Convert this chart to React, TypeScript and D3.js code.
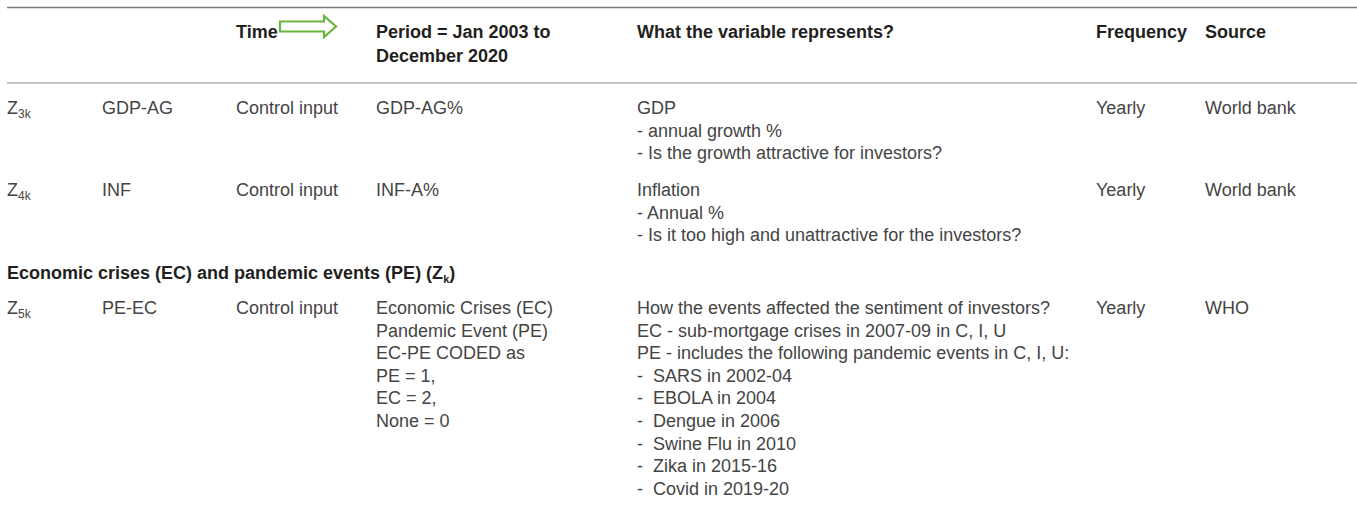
import React from "react";
import * as d3 from "d3";

const headerLine1 = ["", "", "Time", "Period = Jan 2003 to", "What the variable represents?", "Frequency", "Source"];
const headerLine2 = ["", "", "", "December 2020", "", "", ""];

const rowIds = [
  { z: "Z", sub: "3k" },
  { z: "Z", sub: "4k" },
  { z: "Z", sub: "5k" },
];
const rowNames = ["GDP-AG", "INF", "PE-EC"];
const rowTypes = ["Control input", "Control input", "Control input"];
const rowPeriods = [
  ["GDP-AG%"],
  ["INF-A%"],
  ["Economic Crises (EC)", "Pandemic Event (PE)", "EC-PE CODED as", "PE = 1,", "EC = 2,", "None = 0"],
];
const rowMeanings = [
  ["GDP", "- annual growth %", "- Is the growth attractive for investors?"],
  ["Inflation", "- Annual %", "- Is it too high and unattractive for the investors?"],
  [
    "How the events affected the sentiment of investors?",
    "EC - sub-mortgage crises in 2007-09 in C, I, U",
    "PE - includes the following pandemic events in C, I, U:",
    "-  SARS in 2002-04",
    "-  EBOLA in 2004",
    "-  Dengue in 2006",
    "-  Swine Flu in 2010",
    "-  Zika in 2015-16",
    "-  Covid in 2019-20",
  ],
];
const rowFrequency = ["Yearly", "Yearly", "Yearly"];
const rowSource = ["World bank", "World bank", "WHO"];
const sectionTitle = "Economic crises (EC) and pandemic events (PE) (Z";
const sectionSub = "k";
const sectionEnd = ")";

const W = 1357;
const H = 528;
const FONT = "'Liberation Sans', Arial, Helvetica, sans-serif";
const TEXT = "#444";
const BOLD = "#231f20";
const LINE_H = 22.6;

const colX = d3.scaleOrdinal<number, number>().domain([0, 1, 2, 3, 4, 5, 6]).range([7, 102, 236, 376, 637, 1096, 1205]);
const rowBase = [114, 196, 314];
const headerBase = 38;
const headerLineH = 23.5;
const sectionBase = 279;

export default function App() {
  const lineY = (base: number, i: number) => base + i * LINE_H;

  return (
    <svg
      width={W}
      height={H}
      style={{ position: "absolute", left: 0, top: 0, background: "#fff" }}
      fontFamily={FONT}
      fontSize={18}
    >
      <rect x={0} y={0} width={W} height={H} fill="#fff" />
      <line x1={7} x2={W} y1={7.5} y2={7.5} stroke="#7a7a7a" strokeWidth={1.5} />
      <line x1={7} x2={W} y1={83} y2={83} stroke="#8a8a8a" strokeWidth={1.2} />

      {headerLine1.map((t, i) =>
        t ? (
          <text key={"h1" + i} x={colX(i)} y={headerBase} fontWeight="bold" fill={BOLD}>
            {t}
          </text>
        ) : null
      )}
      {headerLine2.map((t, i) =>
        t ? (
          <text key={"h2" + i} x={colX(i)} y={headerBase + headerLineH} fontWeight="bold" fill={BOLD}>
            {t}
          </text>
        ) : null
      )}
      <path
        d="M280,21.5 L324,21.5 L324,16 L336,26.5 L324,37 L324,31.5 L280,31.5 Z"
        fill="none"
        stroke="#6db33f"
        strokeWidth={2.2}
        strokeLinejoin="miter"
      />

      <text x={colX(0)} y={sectionBase} fontWeight="bold" fill={BOLD}>
        {sectionTitle}
        <tspan fontSize={11} dy={4}>{sectionSub}</tspan>
        <tspan dy={-4}>{sectionEnd}</tspan>
      </text>

      {rowIds.map((id, r) => {
        const base = rowBase[r];
        return (
          <g key={"row" + r} fill={TEXT}>
            <text x={colX(0)} y={base}>
              {id.z}
              <tspan fontSize={12} dy={4}>{id.sub}</tspan>
            </text>
            <text x={colX(1)} y={base}>{rowNames[r]}</text>
            <text x={colX(2)} y={base}>{rowTypes[r]}</text>
            {rowPeriods[r].map((t, i) => (
              <text key={"p" + i} x={colX(3)} y={lineY(base, i)}>{t}</text>
            ))}
            {rowMeanings[r].map((t, i) => (
              <text key={"m" + i} x={colX(4)} y={lineY(base, i)} style={{ whiteSpace: "pre" }}>{t}</text>
            ))}
            <text x={colX(5)} y={base}>{rowFrequency[r]}</text>
            <text x={colX(6)} y={base}>{rowSource[r]}</text>
          </g>
        );
      })}
    </svg>
  );
}
